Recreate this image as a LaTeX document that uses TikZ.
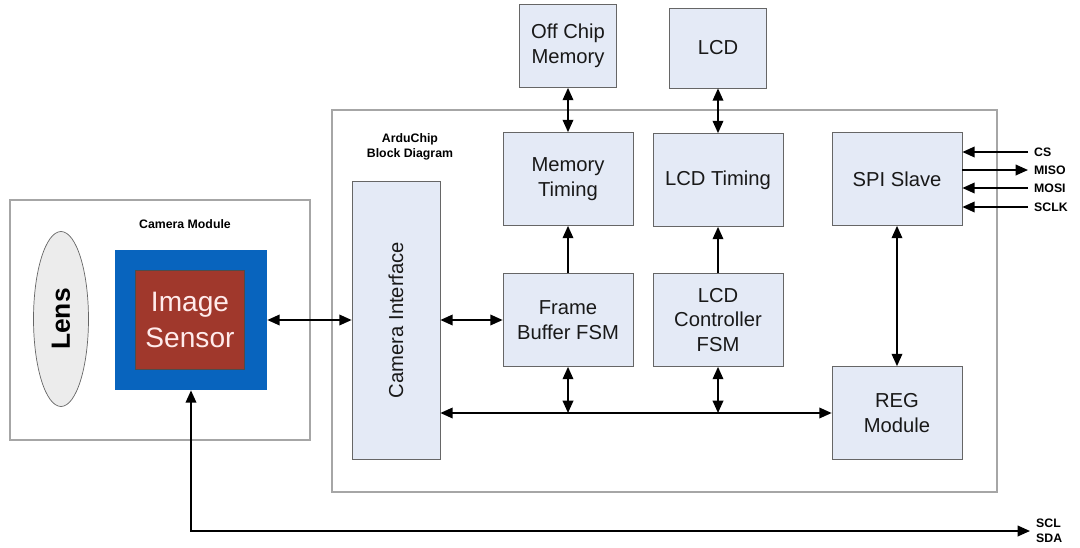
\documentclass[tikz,border=0pt]{standalone}
\usepackage{fontspec}
\setmainfont{Liberation Sans}
\usepackage{xcolor}
\usetikzlibrary{arrows.meta, shapes.geometric}

\definecolor{boxfill}{RGB}{228,234,246}
\definecolor{sensorblue}{RGB}{8,100,190}
\definecolor{sensorred}{RGB}{160,56,44}
\definecolor{lensfill}{RGB}{236,236,236}

\begin{document}
\begin{tikzpicture}[
    x=0.02cm, y=-0.02cm,
    blk/.style={draw=gray!80!black, fill=boxfill, align=center, font=\fontsize{11.5}{14}\selectfont, text=black!90},
    wide/.style={minimum width=2.6cm, minimum height=1.86cm},
    frame/.style={draw=gray!70, line width=0.8pt},
    arr/.style={-{Triangle[length=7pt,width=6pt]}, line width=1pt},
    biarr/.style={{Triangle[length=7pt,width=6pt]}-{Triangle[length=7pt,width=6pt]}, line width=1pt},
    lbl/.style={font=\bfseries\fontsize{7}{8.5}\selectfont, align=left}
]
    \useasboundingbox (0,0) rectangle (1080,548);

    % Camera module
    \node[frame, minimum width=6cm, minimum height=4.8cm] (cammod) at (160,320) {};
    \node[lbl] (camlbl) at (185,224) {Camera Module};
    \node[ellipse, draw=gray!80!black, fill=lensfill, minimum width=3.5cm, minimum height=1.1cm,
          rotate=90, font=\bfseries\fontsize{15}{18}\selectfont, inner sep=0pt] (lens) at (61,319) {Lens};
    \node[fill=sensorblue, minimum width=3.04cm, minimum height=2.8cm] (sensorbg) at (191,320) {};
    \node[draw=black!70, fill=sensorred, text=white!92!red, minimum width=2.18cm, minimum height=1.98cm,
          align=center, font=\fontsize{16}{20}\selectfont] (sensor) at (190,320) {Image\\Sensor};

    % ArduChip
    \node[frame, minimum width=13.3cm, minimum height=7.64cm] (chip) at (664.5,301) {};
    \node[lbl, align=center] (chiplbl) at (410,147) {ArduChip\\Block Diagram};
    \node[blk, minimum width=1.76cm, minimum height=5.56cm] (camif) at (396,320) {};
    \node[rotate=90, font=\fontsize{11.5}{14}\selectfont, text=black!90] at (camif) {Camera Interface};

    \node[blk, minimum width=1.94cm, minimum height=1.66cm] (offchip) at (568,46) {Off Chip\\Memory};
    \node[blk, minimum width=1.94cm, minimum height=1.6cm] (lcd) at (718,48) {LCD};
    \node[blk, wide] (memtim) at (568,179) {Memory\\Timing};
    \node[blk, wide] (lcdtim) at (718,180) {LCD Timing};
    \node[blk, wide] (spi) at (897,179) {SPI Slave};
    \node[blk, wide] (fbfsm) at (568,320) {Frame\\Buffer FSM};
    \node[blk, wide] (lcdfsm) at (718,320) {LCD\\Controller\\FSM};
    \node[blk, wide] (reg) at (897,413) {REG\\Module};

    % SPI pins
    \node[lbl, anchor=west] (cs) at (1028,152) {CS};
    \node[lbl, anchor=west] (miso) at (1028,170) {MISO};
    \node[lbl, anchor=west] (mosi) at (1028,188) {MOSI};
    \node[lbl, anchor=west] (sclk) at (1028,207) {SCLK};
    \node[lbl, anchor=west] (sclsda) at (1030,531) {SCL\\SDA};

    % Connections
    \draw[biarr] (sensorbg.east) -- (camif.west);
    \draw[biarr] (camif.east) -- (fbfsm.west);
    \draw[biarr] (offchip) -- (memtim);
    \draw[biarr] (lcd) -- (lcdtim);
    \draw[arr] (fbfsm) -- (memtim);
    \draw[arr] (lcdfsm) -- (lcdtim);
    \draw[biarr] (spi) -- (reg);
    \draw[biarr] (camif.east |- reg) -- (reg.west);
    \draw[biarr] (fbfsm.south) -- (fbfsm.south |- reg);
    \draw[biarr] (lcdfsm.south) -- (lcdfsm.south |- reg);
    \draw[arr] (cs.west) -- (cs.west -| spi.east);
    \draw[arr] (miso.west -| spi.east) -- (miso.west);
    \draw[arr] (mosi.west) -- (mosi.west -| spi.east);
    \draw[arr] (sclk.west) -- (sclk.west -| spi.east);
    \draw[biarr] (sensorbg.south) |- (sclsda.west);
\end{tikzpicture}
\end{document}
